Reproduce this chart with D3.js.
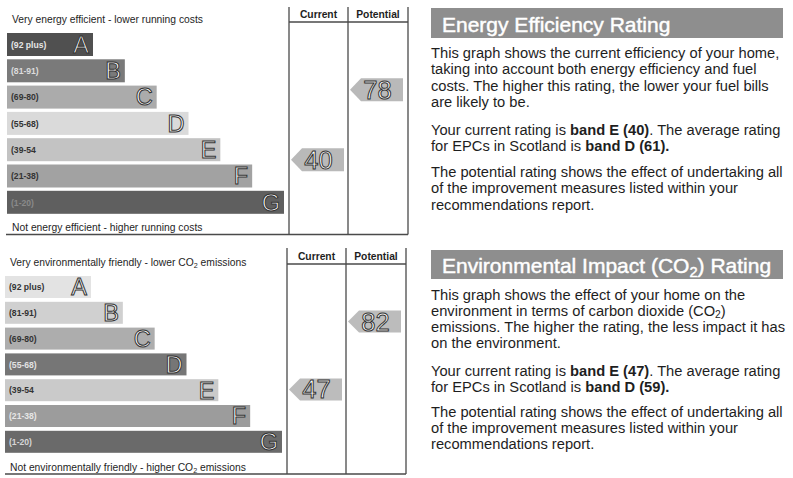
<!DOCTYPE html>
<html>
<head>
<meta charset="utf-8">
<script src="https://cdn.jsdelivr.net/npm/d3@7"></script>
<style>
  html, body { margin: 0; padding: 0; background: #ffffff; }
  svg { display: block; font-family: "Liberation Sans", Arial, sans-serif; }
</style>
</head>
<body>
<svg id="chart" width="793" height="478"></svg>
<script>
// ---------------- data ----------------
const bandLetters = ["A", "B", "C", "D", "E", "F", "G"];
const bandRanges = ["(92 plus)", "(81-91)", "(69-80)", "(55-68)", "(39-54", "(21-38)", "(1-20)"];
const bandMax = [100, 91, 80, 68, 54, 38, 20];
const bandMin = [92, 81, 69, 55, 39, 21, 1];
const columnLabels = ["Current", "Potential"];
const energyValues = [40, 78];   // current, potential
const impactValues = [47, 82];   // current, potential

const energyTopText = "Very energy efficient - lower running costs";
const energyBottomText = "Not energy efficient - higher running costs";
const impactTopText = "Very environmentally friendly - lower CO~2~ emissions";
const impactBottomText = "Not environmentally friendly - higher CO~2~ emissions";

const energyTitle = "Energy Efficiency Rating";
const impactTitle = "Environmental Impact (CO~2~) Rating";

const energyParas = [
  ["This graph shows the current efficiency of your home,",
   "taking into account both energy efficiency and fuel",
   "costs. The higher this rating, the lower your fuel bills",
   "are likely to be."],
  ["Your current rating is *band E (40)*. The average rating",
   "for EPCs in Scotland is *band D (61).*"],
  ["The potential rating shows the effect of undertaking all",
   "of the improvement measures listed within your",
   "recommendations report."]
];
const impactParas = [
  ["This graph shows the effect of your home on the",
   "environment in terms of carbon dioxide (CO~2~)",
   "emissions. The higher the rating, the less impact it has",
   "on the environment."],
  ["Your current rating is *band E (47)*. The average rating",
   "for EPCs in Scotland is *band D (59).*"],
  ["The potential rating shows the effect of undertaking all",
   "of the improvement measures listed within your",
   "recommendations report."]
];

// ---------------- styles / layout ----------------
const energyStyle = {
  barFill: ["#505050", "#7a7a7a", "#ababab", "#dadada", "#c3c3c3", "#a2a2a2", "#5f5f5f"],
  labelFill: ["#e6e6e6", "#dcdcdc", "#333", "#333", "#333", "#333", "#8a8a8a"],
  arrowFill: "#b9b9b9"
};
const impactStyle = {
  barFill: ["#e3e3e3", "#d0d0d0", "#adadad", "#767676", "#cacaca", "#9c9c9c", "#6a6a6a"],
  labelFill: ["#333", "#333", "#333", "#e2e2e2", "#333", "#e6e6e6", "#d6d6d6"],
  arrowFill: "#bcbcbc"
};
const energyLayout = { x0: 7, barTop: 33, step: 26.3, barH: 23, frameTop: 7, headerLine: 22,
  bottom: 234.5, cols: [289, 348, 408], topTextY: 22.5, bottomTextY: 230.5, textX: 12, lineX0: 6, headY: 18 };
const impactLayout = { x0: 5, barTop: 276, step: 25.8, barH: 22, frameTop: 248, headerLine: 264,
  bottom: 474, cols: [287, 346, 406], topTextY: 265.5, bottomTextY: 470.5, textX: 10, lineX0: 5, headY: 260 };

const svg = d3.select("#chart");
const textColor = "#1e1e1e";

// mini markup: *bold*, ~sub~
function addRich(sel, str, baseSize, subShift) {
  const parts = str.split(/(\*[^*]+\*|~[^~]+~)/).filter(s => s.length);
  let pendingDy = 0;
  const shift = baseSize * (subShift === undefined ? 0.2 : subShift);
  parts.forEach(p => {
    let ts;
    if (p[0] === "*") {
      ts = sel.append("tspan").attr("font-weight", "bold").text(p.slice(1, -1));
    } else if (p[0] === "~") {
      ts = sel.append("tspan").attr("font-size", baseSize * 0.7).text(p.slice(1, -1));
      ts.attr("dy", pendingDy + shift);
      pendingDy = -shift;
      return;
    } else {
      ts = sel.append("tspan").text(p);
    }
    if (pendingDy) { ts.attr("dy", pendingDy); pendingDy = 0; }
  });
}

function drawChart(L, S, values, topText, bottomText) {
  const g = svg.append("g");
  const y = d3.scaleBand().domain(bandLetters)
    .range([L.barTop, L.barTop + 6 * L.step + L.barH])
    .paddingInner(1 - L.barH / L.step).paddingOuter(0);
  const w = d3.scaleLinear().domain([0, bandLetters.length - 1]).range([86, 277]);

  // rating -> vertical position (max of band at top of bar, min at bottom)
  const dom = [], rng = [];
  bandLetters.forEach((b, i) => {
    dom.push(bandMax[i], bandMin[i]);
    rng.push(y(b), y(b) + y.bandwidth());
  });
  const ry = d3.scaleLinear().domain(dom).range(rng);

  // frame lines
  const line = (x1, y1, x2, y2, sw) => g.append("line").attr("x1", x1).attr("y1", y1)
    .attr("x2", x2).attr("y2", y2).attr("stroke", "#4a4a4a").attr("stroke-width", sw || 1.3);
  L.cols.forEach(cx => line(cx, L.frameTop, cx, L.bottom));
  line(L.cols[0], L.headerLine, L.cols[2], L.headerLine);
  line(L.lineX0, L.bottom, L.cols[2], L.bottom);

  columnLabels.forEach((c, i) => {
    g.append("text").attr("x", (L.cols[i] + L.cols[i + 1]) / 2).attr("y", L.headY)
      .attr("text-anchor", "middle").attr("font-weight", "bold").attr("font-size", 10.3)
      .attr("fill", textColor).text(c);
  });

  const tt = g.append("text").attr("x", L.textX).attr("y", L.topTextY).attr("font-size", 10.3).attr("fill", textColor);
  addRich(tt, topText, 10.3);
  const bt = g.append("text").attr("x", L.textX).attr("y", L.bottomTextY).attr("font-size", 10.3).attr("fill", textColor);
  addRich(bt, bottomText, 10.3);

  // bars
  const rows = g.selectAll("g.band").data(bandLetters).join("g").attr("class", "band");
  rows.append("rect").attr("x", L.x0).attr("y", d => y(d))
    .attr("width", (d, i) => w(i)).attr("height", y.bandwidth())
    .attr("fill", (d, i) => S.barFill[i]);
  rows.append("text").attr("x", L.x0 + 4).attr("y", d => y(d) + y.bandwidth() / 2 + 3.2)
    .attr("font-size", 8.6).attr("font-weight", "bold")
    .attr("fill", (d, i) => S.labelFill[i]).text((d, i) => bandRanges[i]);
  rows.append("text").attr("x", (d, i) => L.x0 + w(i) - 4)
    .attr("y", d => y(d) + y.bandwidth() / 2 + 8.3)
    .attr("text-anchor", "end").attr("font-size", 23.5)
    .attr("fill", "#ffffff").attr("stroke", "#333333").attr("stroke-width", 1)
    .text(d => d);

  // arrows
  const aw = 53, tip = 11, ah = L.barH;
  values.forEach((v, i) => {
    const x = L.cols[i] + 2, cy = ry(v);
    const pts = [[x, cy], [x + tip, cy - ah / 2], [x + aw, cy - ah / 2], [x + aw, cy + ah / 2], [x + tip, cy + ah / 2]];
    g.append("path").attr("d", d3.line()(pts) + "Z").attr("fill", S.arrowFill);
    g.append("text").attr("x", x + aw / 2 + 1).attr("y", cy + 9)
      .attr("text-anchor", "middle").attr("font-size", 25.5)
      .attr("fill", "#ffffff").attr("stroke", "#333333").attr("stroke-width", 1)
      .text(v);
  });
}

drawChart(energyLayout, energyStyle, energyValues, energyTopText, energyBottomText);
drawChart(impactLayout, impactStyle, impactValues, impactTopText, impactBottomText);

// right-hand panels
function drawPanel(boxY, boxH, title, titleY, paras, paraStarts, lh) {
  const g = svg.append("g");
  g.append("rect").attr("x", 431).attr("y", boxY).attr("width", 352).attr("height", boxH).attr("fill", "#8e8e8e");
  const t = g.append("text").attr("x", 442).attr("y", titleY).attr("font-size", 21)
    .attr("fill", "#ffffff").attr("stroke", "#ffffff").attr("stroke-width", 0.45);
  addRich(t, title, 21);
  paras.forEach((lines, pi) => {
    lines.forEach((ln, li) => {
      const tx = g.append("text").attr("x", 431).attr("y", paraStarts[pi] + li * lh)
        .attr("font-size", 14.7).attr("fill", textColor);
      addRich(tx, ln, 14.7, 0.12);
    });
  });
}
drawPanel(8, 30, energyTitle, 32, energyParas, [58, 134.5, 177], 16.3);
drawPanel(250, 29, impactTitle, 273, impactParas, [300, 375.5, 417], 16);
</script>
</body>
</html>
